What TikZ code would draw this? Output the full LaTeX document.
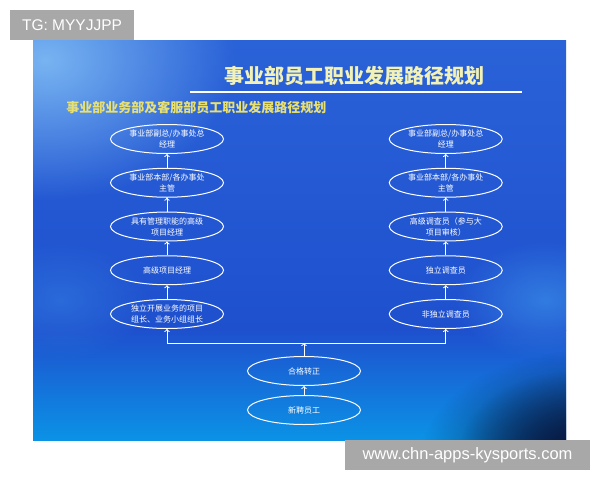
\documentclass[tikz,border=0pt]{standalone}
\usepackage{fontspec}
\setmainfont{Liberation Sans}
\newfontfamily\cjk{Noto Sans CJK SC}
\usetikzlibrary{arrows,shapes.geometric,positioning,fadings}

\definecolor{slidetop}{HTML}{2A62D8}
\definecolor{slidemid}{HTML}{1E50CE}
\definecolor{slidelow}{HTML}{0B92E6}
\definecolor{glowblue}{HTML}{78B4F2}
\definecolor{streakblue}{HTML}{3A8EE8}
\definecolor{navyblue}{HTML}{08163F}
\definecolor{titleyellow}{HTML}{F2F2B8}
\definecolor{subyellow}{HTML}{E8E070}
\definecolor{tagcolor}{HTML}{A8A8A8}

\tikzfading[name=soft glow, inner color=transparent!0, outer color=transparent!100]

\begin{document}
\begin{tikzpicture}[x=1pt,y=-1pt,>=to,auto,node distance=43.75pt,
                    thick,path node/.style={ellipse,draw=white,line width=1pt,text=white,
                    minimum width=113pt,minimum height=29pt,inner sep=0pt,align=center,
                    font=\cjk\fontsize{8}{11}\selectfont},
                    tag/.style={fill=tagcolor,text=white,inner sep=0pt}]
  \useasboundingbox (0,0) rectangle (600,480);

  % slide background
  \shade[top color=slidetop,bottom color=slidemid] (33,40) rectangle (566,330.5);
  \shade[top color=slidemid,bottom color=slidelow] (33,330) rectangle (566,440);
  \begin{scope}
    \clip (33,40) rectangle (566,440);
    \fill[glowblue,path fading=soft glow] (45,60) ellipse (190 and 140);
    \fill[streakblue,opacity=0.7,path fading=soft glow] (545,300) ellipse (90 and 60);
    \fill[streakblue,opacity=0.4,path fading=soft glow] (60,300) ellipse (90 and 60);
    \fill[navyblue,path fading=soft glow] (590,460) ellipse (170 and 110);
    \fill[navyblue,path fading=soft glow] (580,450) ellipse (120 and 80);
  \end{scope}

  % titles
  \node (title) at (354,76) {\cjk\bfseries\fontsize{20}{24}\selectfont\color{titleyellow}事业部员工职业发展路径规划};
  \draw[white,line width=1.6pt] (190,92) -- (522,92);
  \node (sub) [anchor=west,inner sep=0pt] at (66,108) {\cjk\bfseries\fontsize{13}{15}\selectfont\color{subyellow}事业部业务部及客服部员工职业发展路径规划};

  % left path
  \node[path node] (l1) at (167,139) {事业部副总/办事处总\\经理};
  \node[path node] (l2) [below of=l1] {事业部本部/各办事处\\主管};
  \node[path node] (l3) [below of=l2] {具有管理职能的高级\\项目经理};
  \node[path node] (l4) [below of=l3] {高级项目经理};
  \node[path node] (l5) [below of=l4] {独立开展业务的项目\\组长、业务小组组长};

  % right path
  \node[path node] (r1) [right of=l1, xshift=235pt] {事业部副总/办事处总\\经理};
  \node[path node] (r2) [below of=r1] {事业部本部/各办事处\\主管};
  \node[path node] (r3) [below of=r2] {高级调查员（参与大\\项目审核）};
  \node[path node] (r4) [below of=r3] {独立调查员};
  \node[path node] (r5) [below of=r4] {非独立调查员};

  % entry
  \node[path node] (pass) at (304,371) {合格转正};
  \node[path node] (hire) [below of=pass, node distance=39pt] {新聘员工};
  \coordinate (bar) at (304,343);

  \path[draw=white,line width=1pt]
    (hire) edge[->] (pass)
    (pass) edge[->] (bar)
    (l5 |- bar) edge (r5 |- bar)
    (l5 |- bar) edge[->] (l5)
    (r5 |- bar) edge[->] (r5)
    (l5) edge[->] (l4)
    (l4) edge[->] (l3)
    (l3) edge[->] (l2)
    (l2) edge[->] (l1)
    (r5) edge[->] (r4)
    (r4) edge[->] (r3)
    (r3) edge[->] (r2)
    (r2) edge[->] (r1);

  % watermark tags
  \node[tag,minimum width=124pt,minimum height=30pt] (tg) at (72,25) {\fontsize{15.5}{18}\selectfont TG: MYYJJPP};
  \node[tag,minimum width=245pt,minimum height=30pt] (site) at (467.5,455) {\fontsize{16.5}{18}\selectfont www.chn-apps-kysports.com};
\end{tikzpicture}
\end{document}
